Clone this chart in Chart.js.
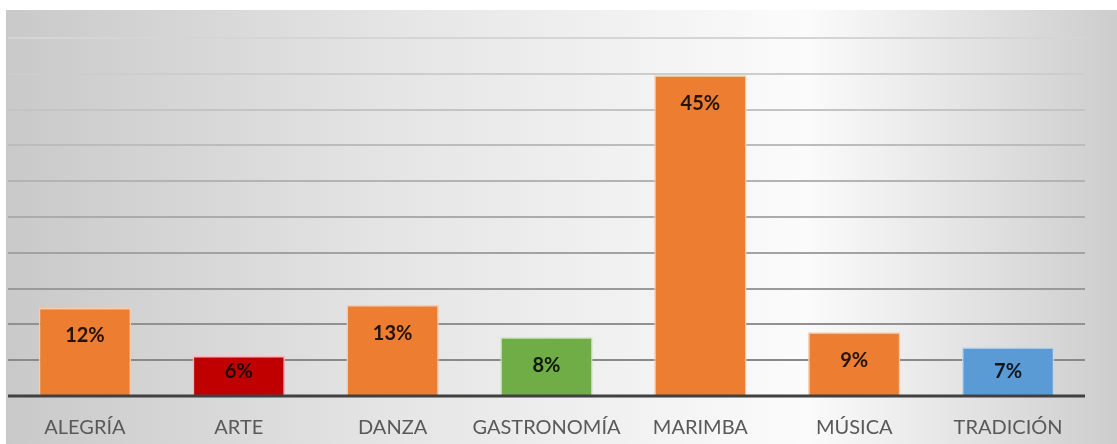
<!DOCTYPE html>
<html lang="es">
<head>
  <meta charset="UTF-8" />
  <title>Categorías</title>
  <script src="https://cdn.jsdelivr.net/npm/chart.js"></script>
  <style>
    html, body {
      margin: 0;
      padding: 0;
      background: #ffffff;
    }
    #wrap {
      width: 1117px;
      height: 444px;
      position: relative;
    }
  </style>
</head>
<body>
  <div id="wrap">
    <canvas id="chart" width="1117" height="444"></canvas>
  </div>

  <script>
    const categories = ["ALEGRÍA", "ARTE", "DANZA", "GASTRONOMÍA", "MARIMBA", "MÚSICA", "TRADICIÓN"];
    const values = [12.3, 5.6, 12.7, 8.2, 44.8, 8.9, 6.8];
    const labels = ["12%", "6%", "13%", "8%", "45%", "9%", "7%"];
    const barColors = ["#ED7D31", "#C00000", "#ED7D31", "#70AD47", "#ED7D31", "#ED7D31", "#5B9BD5"];
    const barEdges = ["#F8CBAD", "#F4B6B6", "#F8CBAD", "#C5E0B4", "#F8CBAD", "#F8CBAD", "#BDD7EE"];

    // grey-to-white background behind the whole chart
    const backdrop = {
      id: "backdrop",
      beforeDraw(chart) {
        const ctx = chart.ctx;
        const g = ctx.createLinearGradient(6, 0, chart.width, 0);
        g.addColorStop(0, "#c9c9c9");
        g.addColorStop(0.35, "#e5e5e5");
        g.addColorStop(0.72, "#fbfbfb");
        g.addColorStop(1, "#cdcdcd");
        ctx.save();
        ctx.fillStyle = g;
        ctx.fillRect(6, 10, chart.width - 6, chart.height - 10);
        ctx.restore();
      }
    };

    // dark axis line on top of the bars, then the value labels
    const overlay = {
      id: "overlay",
      afterDatasetsDraw(chart) {
        const ctx = chart.ctx;
        const area = chart.chartArea;
        const y0 = chart.scales.y.getPixelForValue(0);
        ctx.save();
        ctx.strokeStyle = "#404040";
        ctx.lineWidth = 3;
        ctx.beginPath();
        ctx.moveTo(area.left, y0);
        ctx.lineTo(area.right, y0);
        ctx.stroke();

        ctx.font = "bold 20px Lato";
        ctx.fillStyle = "rgba(0,0,0,0.85)";
        ctx.textAlign = "center";
        ctx.textBaseline = "middle";
        chart.getDatasetMeta(0).data.forEach((bar, i) => {
          const y = Math.min(bar.y + 28, y0 - 24);
          ctx.fillText(labels[i], bar.x, y);
        });
        ctx.restore();
      }
    };

    function gridColor(ctx) {
      const v = ctx.tick.value;
      if (v === 0) return "rgba(0,0,0,0)";
      const level = Math.round(0x80 + (v / 50) * (0xd5 - 0x80));
      return `rgb(${level},${level},${level})`;
    }

    new Chart(document.getElementById("chart"), {
      type: "bar",
      data: {
        labels: categories,
        datasets: [{
          data: values,
          backgroundColor: barColors,
          borderColor: barEdges,
          borderWidth: 1.5,
          borderSkipped: "bottom",
          categoryPercentage: 1,
          barPercentage: 0.6
        }]
      },
      plugins: [backdrop, overlay],
      options: {
        responsive: false,
        animation: false,
        // ticks padding is counted twice in the axis height, hence the negative bottom
        layout: { padding: { left: 8, right: 32, top: 38, bottom: -16 } },
        plugins: {
          legend: { display: false },
          tooltip: { enabled: false }
        },
        scales: {
          x: {
            grid: { display: false, drawTicks: false },
            border: { display: false },
            ticks: {
              color: "#595959",
              font: { family: "Lato", size: 20 },
              padding: 20,
              maxRotation: 0,
              minRotation: 0,
              autoSkip: false
            }
          },
          y: {
            min: 0,
            max: 50,
            ticks: { display: false, stepSize: 5 },
            border: { display: false },
            grid: { color: gridColor, lineWidth: 2, drawTicks: false }
          }
        }
      }
    });
  </script>
</body>
</html>
